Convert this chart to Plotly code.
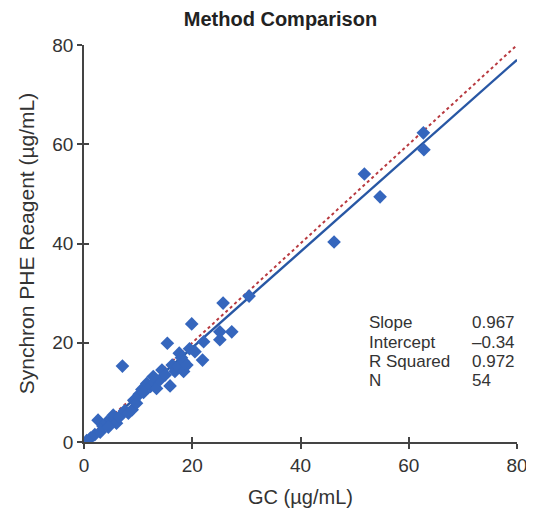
import plotly.graph_objects as go

gc_values = [0.5, 1.2, 2.0, 3.0, 2.6, 3.5, 4.2, 5.0, 5.4, 6.0, 6.5, 7.1, 7.5, 8.2, 8.9,
             9.2, 9.7, 10.2, 10.7, 11.6, 12.3, 13.0, 13.4, 14.0, 14.4, 15.0, 15.4, 15.9,
             16.3, 16.8, 17.4, 17.6, 18.0, 18.4, 18.4, 19.0, 19.5, 19.9, 20.5, 21.9, 22.1,
             25.1, 25.1, 25.7, 27.3, 30.5, 46.2, 51.8, 54.7, 62.7, 62.8, 4.5, 11.0, 12.8]
phe_values = [0.3, 0.8, 1.5, 2.0, 4.4, 3.2, 4.0, 4.5, 5.4, 3.8, 5.0, 15.3, 6.3, 5.8, 6.5,
              8.4, 7.8, 9.6, 10.6, 11.8, 11.2, 12.0, 10.8, 12.5, 14.5, 13.5, 19.9, 11.3,
              15.5, 14.2, 15.2, 17.9, 17.0, 16.2, 14.2, 15.5, 18.8, 23.8, 18.2, 16.5, 20.2,
              20.6, 22.2, 28.0, 22.2, 29.4, 40.3, 54.0, 49.4, 62.3, 58.9, 3.0, 10.0, 13.2]

slope = 0.967
intercept = -0.34
line_x = [0, 80]
reg_y = [slope * v + intercept for v in line_x]
identity_y = line_x

stat_labels = ["Slope", "Intercept", "R Squared", "N"]
stat_values = ["0.967", "\u20130.34", "0.972", "54"]

tick_vals = [0, 20, 40, 60, 80]

fig = go.Figure()
fig.add_trace(go.Scatter(x=line_x, y=identity_y, mode="lines",
                         line=dict(color="#b83a40", width=2, dash="dot"),
                         showlegend=False, hoverinfo="skip"))
fig.add_trace(go.Scatter(x=line_x, y=reg_y, mode="lines",
                         line=dict(color="#2857a4", width=2.4),
                         showlegend=False, hoverinfo="skip"))
fig.add_trace(go.Scatter(x=gc_values, y=phe_values, mode="markers",
                         marker=dict(symbol="diamond", size=10.5, color="#3566bd",
                                     line=dict(width=0)),
                         showlegend=False))

font_family = "Liberation Sans, Arial, sans-serif"
axis_common = dict(range=[0, 80], tickvals=tick_vals, showgrid=False, zeroline=False,
                   showline=True, linecolor="#444", linewidth=1.5, automargin=False,
                   ticks="outside", ticklen=5, tickwidth=1.5, tickcolor="#444",
                   tickfont=dict(size=19, color="#333", family=font_family))

# page body has an 8px margin, so the figure is shrunk and shifted to compensate
fig.update_layout(
    width=526, height=510,
    margin=dict(l=76, r=17, t=37, b=76),
    paper_bgcolor="white", plot_bgcolor="white",
    font=dict(family=font_family, color="#333"),
    title=dict(text="<b>Method Comparison</b>", x=0.518, xanchor="center",
               y=0.978, yanchor="middle", font=dict(size=20, color="#222")),
    xaxis=dict(**axis_common,
               title=dict(text="GC (\u00b5g/mL)", font=dict(size=20, color="#333"), standoff=15)),
    yaxis=dict(**axis_common,
               title=dict(text="Synchron PHE Reagent (\u00b5g/mL)", font=dict(size=21, color="#333"), standoff=12)),
    xaxis2=dict(range=[0, 80], tickvals=tick_vals, overlaying="x", anchor="y",
                showticklabels=False, showgrid=False, zeroline=False, showline=False,
                ticks="inside", ticklen=5, tickwidth=1.5, tickcolor="#444", side="bottom"),
    yaxis2=dict(range=[0, 80], tickvals=tick_vals, overlaying="y", anchor="x",
                showticklabels=False, showgrid=False, zeroline=False, showline=False,
                ticks="inside", ticklen=5, tickwidth=1.5, tickcolor="#444", side="left"),
)
fig.add_trace(go.Scatter(x=[None], y=[None], xaxis="x2", yaxis="y2", showlegend=False,
                         hoverinfo="skip"))

row_y = [24.0, 20.1, 16.2, 12.3]
for lab, val, yy in zip(stat_labels, stat_values, row_y):
    fig.add_annotation(x=52.3, y=yy, xref="x", yref="y", text=lab, showarrow=False,
                       xanchor="left", yanchor="middle", font=dict(size=17, color="#333"))
    fig.add_annotation(x=71.3, y=yy, xref="x", yref="y", text=val, showarrow=False,
                       xanchor="left", yanchor="middle", font=dict(size=17, color="#333"))

fig.write_html("out.html")
